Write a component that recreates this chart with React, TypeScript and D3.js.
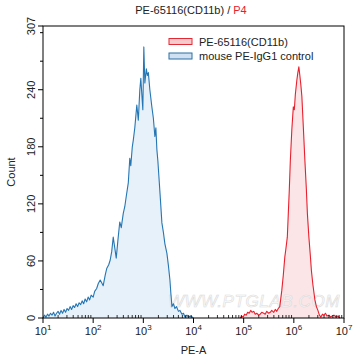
import React, { useEffect, useRef } from 'react';
import * as d3 from 'd3';

// histogram: [log10(PE-A), count]
const controlLog = [1.0,1.03,1.06,1.09,1.12,1.15,1.18,1.21,1.24,1.27,1.3,1.33,1.36,1.39,1.42,1.45,1.48,1.51,1.54,1.57,1.6,1.63,1.66,1.69,1.72,1.75,1.78,1.81,1.84,1.87,1.9,1.93,1.96,2.0,2.03,2.07,2.1,2.14,2.17,2.2,2.24,2.27,2.31,2.34,2.37,2.4,2.43,2.46,2.49,2.53,2.56,2.6,2.63,2.66,2.7,2.73,2.75,2.78,2.8,2.83,2.87,2.9,2.93,2.95,2.97,2.99,3.01,3.03,3.06,3.08,3.1,3.13,3.17,3.2,3.23,3.25,3.27,3.29,3.31,3.34,3.37,3.4,3.43,3.47,3.5,3.53,3.55,3.57,3.6,3.63,3.66,3.7,3.73,3.77,3.8,3.83,3.87,3.9,3.95,4.0];
const controlCount = [0,3,1,4,2,5,3,6,2,5,7,4,8,5,9,6,10,8,12,9,13,11,15,12,16,14,18,15,20,17,22,19,24,22,28,31,36,40,37,34,45,52,56,61,70,85,74,63,80,101,95,110,117,128,142,168,160,180,187,200,224,208,240,252,235,219,285,247,262,255,258,240,222,210,191,200,177,165,149,125,100,90,78,68,55,40,25,12,15,10,12,7,8,4,5,1,3,1,2,0];

const cd11bLog = [4.93,4.96,4.99,5.02,5.05,5.08,5.11,5.14,5.17,5.2,5.23,5.26,5.3,5.33,5.36,5.4,5.43,5.46,5.5,5.53,5.56,5.6,5.63,5.66,5.69,5.72,5.76,5.79,5.82,5.84,5.87,5.89,5.91,5.93,5.96,5.99,6.01,6.03,6.06,6.08,6.1,6.12,6.14,6.16,6.19,6.22,6.25,6.27,6.3,6.33,6.35,6.38,6.42,6.45,6.48,6.51,6.54,6.57,6.6,6.63,6.66,6.7,6.73,6.76,6.8,6.84,6.88,6.92];
const cd11bCount = [0,2,1,4,3,6,5,8,6,7,4,5,3,4,6,5,4,7,5,6,8,6,9,7,10,12,29,45,64,72,85,110,135,165,198,222,219,235,250,258,264,255,245,233,200,166,135,110,85,65,50,35,19,12,8,3,1,4,3,5,2,3,1,2,3,1,2,0];

const yTicks = [0, 60, 120, 180, 240, 307];
const xDecades = [1, 2, 3, 4, 5, 6, 7];
const legendLabels = ['PE-65116(CD11b)', 'mouse PE-IgG1 control'];

const W = 358, H = 361;
const FONT = '"Liberation Sans", Arial, sans-serif';

const App: React.FC = () => {
  const ref = useRef<SVGSVGElement>(null);

  useEffect(() => {
    if (!ref.current) return;
    const svg = d3.select(ref.current);
    svg.selectAll('*').remove();

    const m = { left: 43, right: 344, top: 26, bottom: 318 };
    const x = d3.scaleLinear().domain([1, 7]).range([m.left, m.right]);
    const y = d3.scaleLinear().domain([0, 307]).range([m.bottom, m.top]);

    svg.append('rect').attr('width', W).attr('height', H).attr('fill', '#fff');

    const series = [
      { xs: controlLog, ys: controlCount, line: '#2676b4', fill: '#e3eef8' },
      { xs: cd11bLog, ys: cd11bCount, line: '#e8202e', fill: '#fbe1e2' },
    ];
    const pts = series.map(s => s.xs.map((v, i) => [v, s.ys[i]] as [number, number]));
    const area = d3.area<[number, number]>().x(d => x(d[0])).y0(y(0)).y1(d => y(d[1]));
    const line = d3.line<[number, number]>().x(d => x(d[0])).y(d => y(d[1]));

    series.forEach((s, i) => {
      svg.append('path').attr('d', area(pts[i])).attr('fill', s.fill).attr('opacity', 0.85);
    });

    // watermark
    svg.append('text')
      .attr('x', 254).attr('y', 307)
      .attr('text-anchor', 'middle')
      .attr('font-family', FONT).attr('font-size', 17).attr('font-style', 'italic')
      .attr('letter-spacing', 0.6)
      .attr('fill', '#ffffff').attr('fill-opacity', 0.6)
      .attr('stroke', '#dadada').attr('stroke-width', 0.6)
      .text('WWW.PTGLAB.COM');

    series.forEach((s, i) => {
      svg.append('path').attr('d', line(pts[i])).attr('fill', 'none')
        .attr('stroke', s.line).attr('stroke-width', 1.1).attr('stroke-linejoin', 'round');
    });

    // frame
    svg.append('rect')
      .attr('x', m.left).attr('y', m.top)
      .attr('width', m.right - m.left).attr('height', m.bottom - m.top)
      .attr('fill', 'none').attr('stroke', '#000').attr('stroke-width', 1);

    // y axis ticks
    const yAxis = svg.append('g');
    d3.range(0, 307, 30).concat([307]).forEach(v => {
      const major = yTicks.includes(v);
      yAxis.append('line')
        .attr('x1', m.left - (major ? 5 : 3)).attr('x2', m.left)
        .attr('y1', y(v)).attr('y2', y(v))
        .attr('stroke', '#000').attr('stroke-width', 1);
    });
    yTicks.forEach(v => {
      yAxis.append('text')
        .attr('transform', `translate(${m.left - 8},${y(v)}) rotate(-90)`)
        .attr('text-anchor', 'middle')
        .attr('font-family', FONT).attr('font-size', 11).attr('fill', '#222')
        .text(String(v));
    });

    // x axis ticks (log)
    const xAxis = svg.append('g');
    xDecades.forEach(d => {
      xAxis.append('line')
        .attr('x1', x(d)).attr('x2', x(d)).attr('y1', m.bottom).attr('y2', m.bottom + 5)
        .attr('stroke', '#000');
      if (d < 7) {
        d3.range(2, 10).forEach(k => {
          const xv = x(d + Math.log10(k));
          xAxis.append('line')
            .attr('x1', xv).attr('x2', xv).attr('y1', m.bottom - 3).attr('y2', m.bottom)
            .attr('stroke', '#000').attr('stroke-width', 0.8);
        });
      }
      const t = xAxis.append('text')
        .attr('x', x(d)).attr('y', m.bottom + 17)
        .attr('text-anchor', 'middle')
        .attr('font-family', FONT).attr('font-size', 11).attr('fill', '#222');
      t.append('tspan').text('10');
      t.append('tspan').attr('dy', -5).attr('font-size', 8).text(String(d));
    });

    // axis titles
    svg.append('text')
      .attr('x', (m.left + m.right) / 2).attr('y', 354)
      .attr('text-anchor', 'middle').attr('font-family', FONT).attr('font-size', 11).attr('fill', '#222')
      .text('PE-A');
    svg.append('text')
      .attr('transform', `translate(15,${(m.top + m.bottom) / 2}) rotate(-90)`)
      .attr('text-anchor', 'middle').attr('font-family', FONT).attr('font-size', 11).attr('fill', '#222')
      .text('Count');

    // title
    const title = svg.append('text')
      .attr('x', 191).attr('y', 14)
      .attr('text-anchor', 'middle').attr('font-family', FONT).attr('font-size', 11).attr('fill', '#222');
    title.append('tspan').text('PE-65116(CD11b) / ');
    title.append('tspan').attr('fill', '#e8202e').text('P4');

    // legend
    const legendStyle = [
      { fill: '#f8c9cb', stroke: '#e02a35' },
      { fill: '#cfe0f2', stroke: '#2b6fa3' },
    ];
    legendLabels.forEach((lab, i) => {
      const yy = 41.5 + i * 14.5;
      svg.append('rect')
        .attr('x', 169).attr('y', yy - 3).attr('width', 23).attr('height', 6)
        .attr('fill', legendStyle[i].fill).attr('stroke', legendStyle[i].stroke).attr('stroke-width', 1);
      svg.append('text')
        .attr('x', 199).attr('y', yy + 4)
        .attr('font-family', FONT).attr('font-size', 11).attr('fill', '#222')
        .text(lab);
    });
  }, []);

  return (
    <svg ref={ref} width={W} height={H} viewBox={`0 0 ${W} ${H}`}
      style={{ position: 'absolute', left: 0, top: 0 }} />
  );
};

export default App;
